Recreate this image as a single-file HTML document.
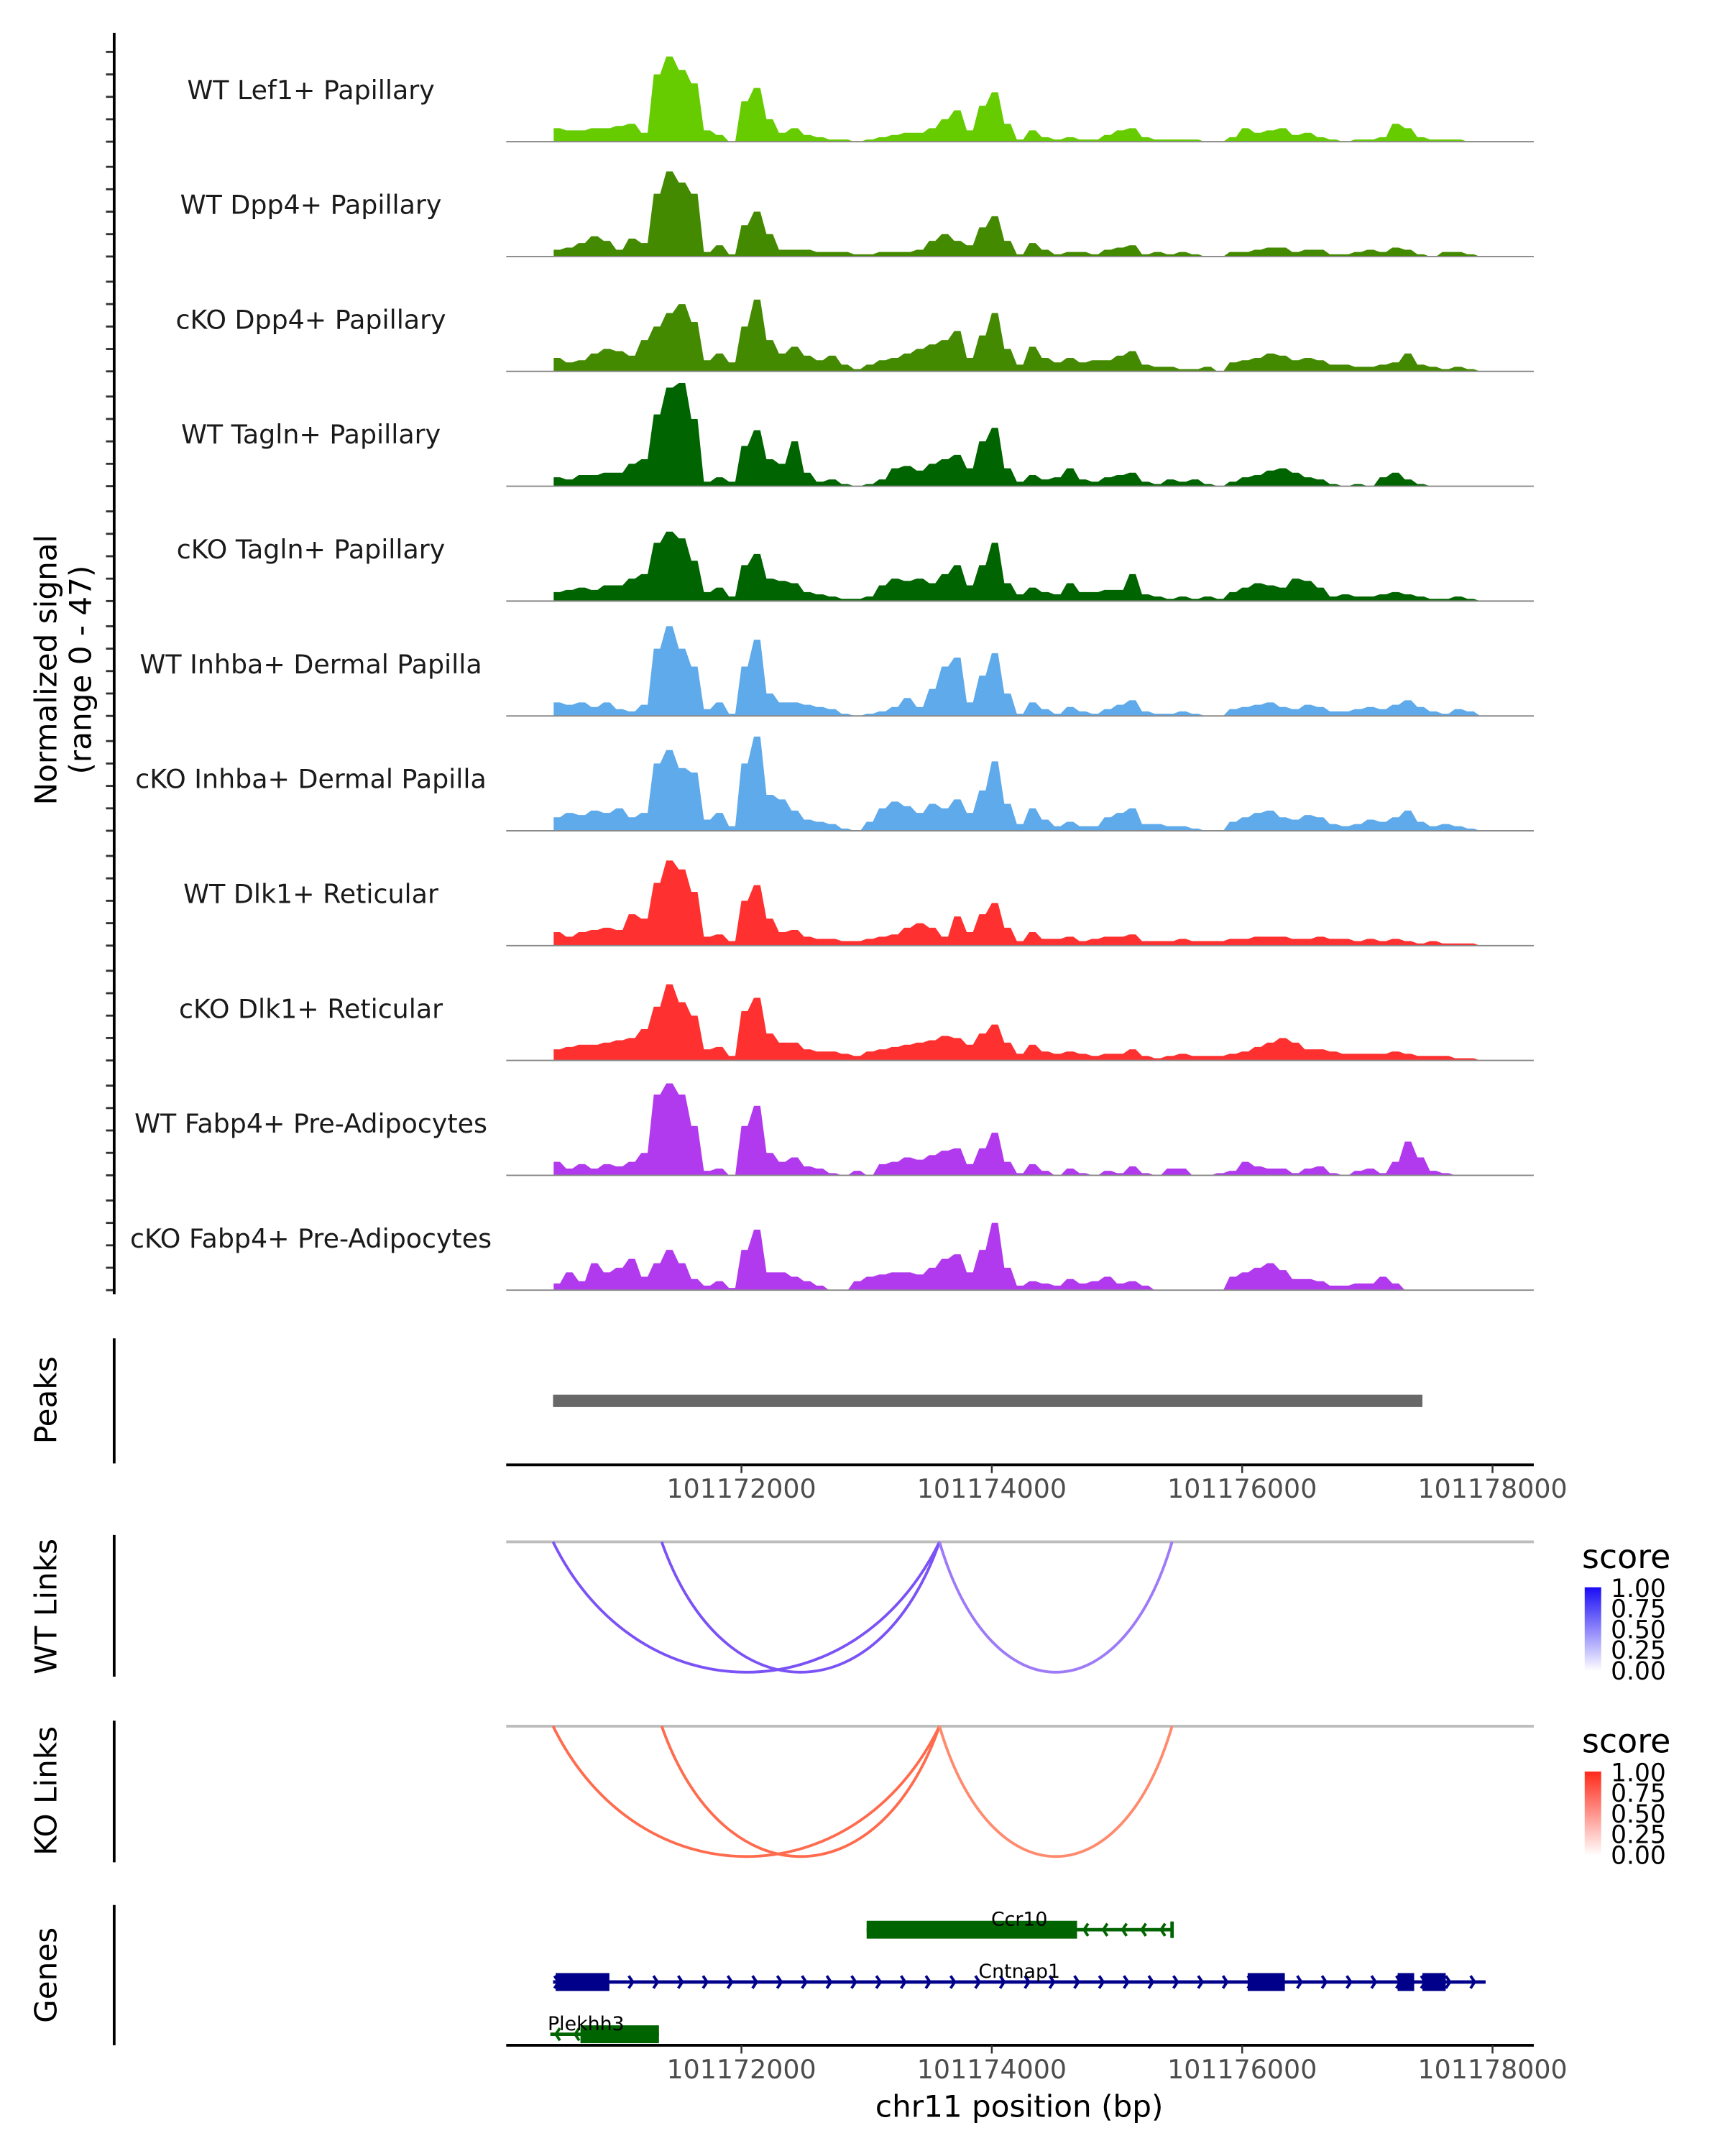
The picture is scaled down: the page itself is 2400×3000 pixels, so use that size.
<!DOCTYPE html>
<html><head><meta charset="utf-8"><style>
html,body{margin:0;padding:0;background:#fff;}
svg{display:block;font-family:"DejaVu Sans","Liberation Sans",sans-serif;}
</style></head><body>
<svg id="chart" xmlns="http://www.w3.org/2000/svg" width="2400" height="3000" viewBox="0 0 1254 1567.5">
<defs>
<linearGradient id="gWT" x1="0" y1="1" x2="0" y2="0"><stop offset="0" stop-color="#ffffff"/><stop offset="1" stop-color="#1a0cf5"/></linearGradient>
<linearGradient id="gKO" x1="0" y1="1" x2="0" y2="0"><stop offset="0" stop-color="#ffffff"/><stop offset="1" stop-color="#ff2a1a"/></linearGradient>
</defs>
<g id="tracks"></g>
<text transform="translate(41,487) rotate(-90)" text-anchor="middle" font-size="22" fill="#000">Normalized signal</text>
<text transform="translate(66,487) rotate(-90)" text-anchor="middle" font-size="22" fill="#000">(range 0 - 47)</text>
<line x1="83" y1="24" x2="83" y2="941" stroke="#000" stroke-width="2"/>

<line x1="83" y1="973" x2="83" y2="1064" stroke="#000" stroke-width="2"/>
<text transform="translate(41,1018) rotate(-90)" text-anchor="middle" font-size="22">Peaks</text>
<g id="peaks"></g>
<g id="xaxis1"></g>

<line x1="83" y1="1116" x2="83" y2="1219" stroke="#000" stroke-width="2"/>
<text transform="translate(41,1168) rotate(-90)" text-anchor="middle" font-size="22">WT Links</text>
<g id="wtlinks"></g>
<g>
<text x="1150" y="1140" font-size="24">score</text>
<rect x="1152" y="1154" width="12" height="61" fill="url(#gWT)"/>
<text x="1171" y="1161" font-size="18">1.00</text><text x="1171" y="1176" font-size="18">0.75</text><text x="1171" y="1191" font-size="18">0.50</text><text x="1171" y="1206" font-size="18">0.25</text><text x="1171" y="1221" font-size="18">0.00</text>
</g>

<line x1="83" y1="1251" x2="83" y2="1354" stroke="#000" stroke-width="2"/>
<text transform="translate(41,1302) rotate(-90)" text-anchor="middle" font-size="22">KO Links</text>
<g id="kolinks"></g>
<g>
<text x="1150" y="1274" font-size="24">score</text>
<rect x="1152" y="1288" width="12" height="61" fill="url(#gKO)"/>
<text x="1171" y="1295" font-size="18">1.00</text><text x="1171" y="1310" font-size="18">0.75</text><text x="1171" y="1325" font-size="18">0.50</text><text x="1171" y="1340" font-size="18">0.25</text><text x="1171" y="1355" font-size="18">0.00</text>
</g>

<line x1="83" y1="1385" x2="83" y2="1487" stroke="#000" stroke-width="2"/>
<text transform="translate(41,1436) rotate(-90)" text-anchor="middle" font-size="22">Genes</text>
<g id="genes"></g>
<g id="xaxis2"></g>
<text x="741" y="1539" text-anchor="middle" font-size="22">chr11 position (bp)</text>
</svg>
<script>
const trackNames = ["WT Lef1+ Papillary","WT Dpp4+ Papillary","cKO Dpp4+ Papillary","WT Tagln+ Papillary","cKO Tagln+ Papillary","WT Inhba+ Dermal Papilla","cKO Inhba+ Dermal Papilla","WT Dlk1+ Reticular","cKO Dlk1+ Reticular","WT Fabp4+ Pre-Adipocytes","cKO Fabp4+ Pre-Adipocytes"];
const trackColors = ["#66cc00","#448a00","#448a00","#006400","#006400","#5eaaea","#5eaaea","#ff3030","#ff3030","#b23aee","#b23aee"];
const binStart = 101170500;
const binSize = 100;
const sLef1WT = [6,5,5,6,6,7,8,4,30,38,32,26,5,3,0,18,24,10,4,6,3,2,1,1,0,1,2,3,4,4,6,10,14,5,16,22,8,1,5,2,1,2,1,1,3,5,6,2,1,1,1,1,0,0,2,6,4,5,6,3,4,2,1,0,1,1,2,8,6,2,1,1,1,0,0];
const sDpp4WT = [3,4,6,9,7,3,8,6,28,38,33,28,2,5,1,14,20,10,3,3,3,2,2,2,1,1,2,2,2,3,7,10,7,5,13,18,7,1,6,3,1,2,2,1,3,4,5,1,2,1,2,1,0,0,2,2,3,4,4,2,3,3,1,1,2,3,2,4,3,1,0,2,2,1,0];
const sDpp4KO = [6,4,5,8,10,9,7,14,20,26,30,22,5,8,4,20,32,14,8,11,7,5,7,3,1,3,5,6,8,10,12,14,18,6,16,26,10,3,11,6,4,6,4,5,5,7,9,3,2,2,1,1,2,0,4,5,6,8,7,5,6,5,3,3,2,2,3,4,8,3,2,1,2,1,0];
const sTaglnWT = [4,3,5,5,6,6,10,12,32,44,46,30,2,4,2,18,25,12,10,20,6,2,3,1,0,1,3,8,9,7,10,12,14,8,20,26,8,2,5,3,4,8,3,2,4,5,6,2,1,3,2,3,1,0,2,4,5,7,8,6,4,3,1,0,1,0,4,6,3,1,0,0,0,0,0];
const sTaglnKO = [4,5,6,5,7,7,10,12,26,31,28,18,4,6,2,16,21,10,9,8,4,3,2,1,1,2,7,10,9,10,8,12,16,7,16,26,8,3,6,4,3,8,4,4,5,5,12,3,2,1,2,1,2,1,4,6,8,7,6,10,9,6,2,3,2,2,3,4,3,2,1,1,2,1,0];
const sInhbaWT = [6,5,6,4,6,3,2,5,30,40,30,22,3,6,1,22,34,10,6,6,5,4,3,1,0,1,2,4,8,4,12,22,26,6,18,28,10,1,6,3,1,4,2,1,3,5,7,2,1,1,2,1,0,0,3,4,5,6,4,3,5,4,2,2,3,4,3,5,7,4,2,1,3,2,0];
const sInhbaKO = [6,8,7,9,8,10,6,8,30,36,28,26,5,8,2,30,42,16,14,9,5,4,3,1,0,4,10,13,11,8,12,10,14,8,18,31,12,3,10,5,2,4,2,2,6,8,10,3,3,2,2,1,0,0,4,6,8,9,6,5,7,6,3,2,3,5,4,6,9,4,2,3,2,1,0];
const sDlk1WT = [6,4,6,7,8,7,14,12,28,38,34,24,4,5,2,20,27,12,6,7,4,3,3,2,2,3,4,5,8,10,8,4,13,6,14,19,8,2,6,3,3,4,2,3,4,4,5,2,2,2,3,2,2,2,3,3,4,4,4,3,3,4,3,3,2,3,2,3,2,1,2,1,1,1,0];
const sDlk1KO = [5,6,7,7,8,9,10,14,24,34,26,20,5,6,2,22,28,12,8,8,5,4,4,3,2,4,5,6,7,8,9,11,10,7,12,16,8,3,7,4,3,4,3,2,3,3,5,2,1,2,3,2,2,2,3,4,6,8,10,8,5,5,4,3,3,3,3,4,3,2,2,2,1,1,0];
const sFabp4WT = [6,3,5,3,5,4,6,10,36,41,36,22,2,3,0,22,31,10,6,8,4,3,1,0,2,0,5,6,8,7,9,11,12,5,12,19,6,1,5,2,0,3,1,0,2,1,4,1,0,3,3,0,0,1,2,6,4,3,3,1,3,4,1,0,2,3,1,6,15,8,2,1,0,0,0];
const sFabp4KO = [3,8,4,12,8,10,14,6,12,18,12,5,2,4,1,18,27,8,8,6,4,2,0,0,4,6,7,8,8,7,10,14,16,8,18,30,10,2,4,3,2,5,3,4,6,3,4,2,0,0,0,0,0,0,6,8,10,12,9,5,5,4,2,2,3,3,6,3,0,0,0,0,0,0,0];
const trackSeries = [sLef1WT,sDpp4WT,sDpp4KO,sTaglnWT,sTaglnKO,sInhbaWT,sInhbaKO,sDlk1WT,sDlk1KO,sFabp4WT,sFabp4KO];
const xTicks = [101172000,101174000,101176000,101178000];
const peakStart = [101170495];
const peakEnd = [101177440];
const wtLinkStart = [101170495,101171363,101173582];
const wtLinkEnd = [101173582,101173582,101175440];
const wtLinkScore = [0.72,0.72,0.6];
const koLinkStart = [101170495,101171363,101173582];
const koLinkEnd = [101173582,101173582,101175440];
const koLinkScore = [0.72,0.72,0.6];
const geneNames = ["Ccr10","Cntnap1","Plekhh3"];
const geneStart = [101173000,101170495,101170473];
const geneEnd = [101175440,101177945,101171341];
const geneStrand = [-1,1,-1];
const geneExonStarts = [[101173000],[101170516,101176044,101177242,101177440],[101170714]];
const geneExonEnds = [[101174681],[101170945,101176341,101177374,101177626],[101171341]];

const NS="http://www.w3.org/2000/svg";
const X0=368, X1=1115;
const x = bp => 539 + (bp-101172000)*0.091;
const yScale = 1.63;
const trackTop0 = 103, trackStep = 83.5;
function mk(tag, attrs, parent){const e=document.createElementNS(NS,tag);for(const k in attrs)e.setAttribute(k,attrs[k]);parent.appendChild(e);return e;}

const tg=document.getElementById('tracks');
trackSeries.forEach((s,t)=>{
  const base = trackTop0 + t*trackStep;
  const g=mk('g',{},tg);
  
  
  for(let k=0;k<5;k++){
    const tk=mk('line',{x1:77,x2:83,y1:base-k*10*yScale,y2:base-k*10*yScale,stroke:'#333','stroke-width':1.5},g);
    
    
  }
  let d='M'+x(binStart)+','+base;
  s.forEach((v,i)=>{const bx0=x(binStart+i*binSize), bx1=x(binStart+(i+1)*binSize);
    d+=' L'+bx0.toFixed(1)+','+(base-v*yScale).toFixed(1)+' L'+((bx0+bx1)/2).toFixed(1)+','+(base-v*yScale).toFixed(1);});
  d+=' L'+x(binStart+(s.length-0.5)*binSize).toFixed(1)+','+base+' Z';
  const p=mk('path',{d:d,fill:trackColors[t]},g);
  
  
  const bl=mk('line',{x1:X0,x2:X1,y1:base,y2:base,stroke:'#888','stroke-width':1},g);
  
  
  const lb=mk('text',{x:226,y:base-31,'text-anchor':'middle','font-size':19,fill:'#1a1a1a'},g);
  lb.textContent=trackNames[t];
  
  
});

const pg=document.getElementById('peaks');
peakStart.forEach((s,i)=>{const r=mk('rect',{x:x(s),y:1014,width:x(peakEnd[i])-x(s),height:9,fill:'#686868'},pg);
  
  });

function axis(id, y){
  const g=document.getElementById(id);
  const l=mk('line',{x1:X0,x2:X1,y1:y,y2:y,stroke:'#000','stroke-width':2},g);
  
  
  xTicks.forEach(v=>{
    const t=mk('line',{x1:x(v),x2:x(v),y1:y,y2:y+6,stroke:'#333','stroke-width':1.3},g);
    
    
    const tx=mk('text',{x:x(v),y:y+24,'text-anchor':'middle','font-size':19,fill:'#4d4d4d'},g);
    tx.textContent=v;
    
    
  });
}
axis('xaxis1',1065); axis('xaxis2',1487);

function links(id, y0, st, en, sc, hue){
  const g=document.getElementById(id);
  const bl=mk('line',{x1:X0,x2:X1,y1:y0,y2:y0,stroke:'#bdbdbd','stroke-width':2},g);
  
  
  st.forEach((s,i)=>{
    const a=x(s), b=x(en[i]), depth=95, w=b-a;
    const c = hue==='wt' ? (sc[i]>0.65?'#7b52f5':'#9d7af7') : (sc[i]>0.65?'#ff6b4d':'#ff8a6e');
    const p=mk('path',{d:`M${a},${y0} C${a+w*0.22},${y0+depth*1.33} ${b-w*0.22},${y0+depth*1.33} ${b},${y0}`,fill:'none',stroke:c,'stroke-width':2},g);
    
    
  });
}
links('wtlinks',1121,wtLinkStart,wtLinkEnd,wtLinkScore,'wt');
links('kolinks',1255,koLinkStart,koLinkEnd,koLinkScore,'ko');

const gg=document.getElementById('genes');
const geneY=[1403,1441,1479];
const chevronStep=[14,18,14];
geneNames.forEach((n,i)=>{
  const g=mk('g',{},gg);
  
  
  const col = geneStrand[i]>0 ? '#00008b' : '#006400';
  const y=geneY[i], a=x(geneStart[i]), b=x(geneEnd[i]);
  mk('line',{x1:a,x2:b,y1:y,y2:y,stroke:col,'stroke-width':2.5},g);
  for(let px=a+4; px<b-2; px+=chevronStep[i]){
    const dx = geneStrand[i]>0 ? 3 : -3;
    mk('polyline',{points:`${px-dx},${y-4.5} ${px},${y} ${px-dx},${y+4.5}`,fill:'none',stroke:col,'stroke-width':2},g);
  }
  if(geneStrand[i]<0 && i===0) mk('line',{x1:b,x2:b,y1:y-6,y2:y+6,stroke:col,'stroke-width':2.5},g);
  geneExonStarts[i].forEach((es,j)=>{
    const r=mk('rect',{x:x(es),y:y-6.5,width:x(geneExonEnds[i][j])-x(es),height:13,fill:col},g);
    
    
  });
  const lx = i===2 ? 426 : (a+b)/2;
  const t=mk('text',{x:lx,y:y-3,'text-anchor':'middle','font-size':14,fill:'#000'},g);
  t.textContent=n;
  
  
});
</script>
</body></html>
